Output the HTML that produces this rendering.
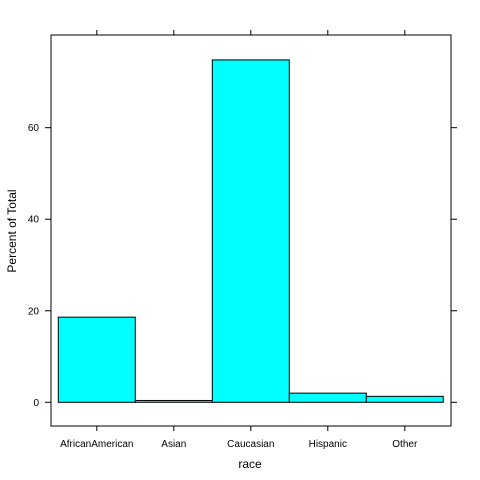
<!DOCTYPE html>
<html><head><meta charset="utf-8"><style>
html,body{margin:0;padding:0;background:#fff;width:480px;height:480px;overflow:hidden}
text{font-family:"Liberation Sans",sans-serif;fill:#000}
</style></head><body>
<svg id="chart" width="480" height="480" xmlns="http://www.w3.org/2000/svg">
<rect x="51" y="35" width="400" height="391" fill="none" stroke="#000" stroke-width="1"/>
<g id="bars"></g><g id="axes"></g>
<text x="250" y="468" font-size="12" text-anchor="middle">race</text>
<text transform="translate(16,231) rotate(-90)" font-size="12" text-anchor="middle">Percent of Total</text>
</svg>
<script>
const categories = ["AfricanAmerican","Asian","Caucasian","Hispanic","Other"];
const values = [18.6, 0.4, 74.8, 2.0, 1.3];
const yTicks = [0, 20, 40, 60];
const ns = "http://www.w3.org/2000/svg";
function y(v){ return 402.3 - v * 4.577; }
function xl(i){ return 58.3 + i * 77; }
function mk(tag, attrs, parent){ const e=document.createElementNS(ns,tag); for(const k in attrs) e.setAttribute(k,attrs[k]); parent.appendChild(e); return e; }
const bars=document.getElementById('bars'), axes=document.getElementById('axes');
values.forEach((v,i)=>{
  const r=mk('rect',{x:xl(i),y:y(v),width:77,height:y(0)-y(v),fill:'#00ffff',stroke:'#000','stroke-width':1},bars);
  
  
});
categories.forEach((c,i)=>{
  const cx=xl(i)+38.5;
  const t1=mk('line',{x1:cx,x2:cx,y1:426,y2:431,stroke:'#000'},axes);
  
  
  const t2=mk('line',{x1:cx,x2:cx,y1:30,y2:35,stroke:'#000'},axes);
  
  
  const l=mk('text',{x:cx,y:447,'font-size':10,'text-anchor':'middle'},axes);
  l.textContent=c;
  
  
});
yTicks.forEach(v=>{
  const yy=y(v);
  const t1=mk('line',{x1:45,x2:51,y1:yy,y2:yy,stroke:'#000'},axes);
  
  
  const t2=mk('line',{x1:451,x2:457,y1:yy,y2:yy,stroke:'#000'},axes);
  
  
  const l=mk('text',{x:39,y:yy+3.5,'font-size':10,'text-anchor':'end'},axes);
  l.textContent=v;
  
  
});
</script>
</body></html>
